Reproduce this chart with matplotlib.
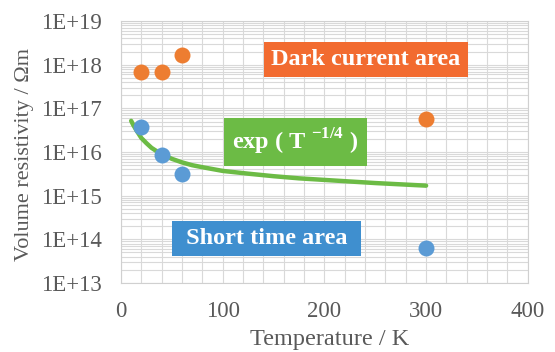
import math

import matplotlib
matplotlib.use("Agg")
import matplotlib.pyplot as plt
from matplotlib.ticker import FixedLocator, MultipleLocator, NullFormatter

plt.rcParams["font.family"] = ["Liberation Serif", "DejaVu Serif"]
plt.rcParams["mathtext.fontset"] = "custom"
plt.rcParams["mathtext.rm"] = "Liberation Serif"
plt.rcParams["mathtext.bf"] = "Liberation Serif:bold"

# measured data
dark_T = [20, 40, 60, 300]
dark_rho = [6.9e17, 6.9e17, 1.7e18, 5.7e16]
short_T = [20, 40, 60, 300]
short_rho = [3.7e16, 8.6e15, 3.2e15, 6.5e13]

# fitted exp(T^-1/4) curve
fit_T = [10, 12, 15, 20, 25, 30, 35, 40, 50, 60, 70, 80, 100, 125, 150, 175, 200, 250, 300]
fit_rho = [5.2e16, 4.2e16, 3.2e16, 2.1e16, 1.6e16, 1.25e16, 1.05e16, 9.0e15, 7.0e15, 5.8e15,
           5.0e15, 4.5e15, 3.7e15, 3.2e15, 2.8e15, 2.5e15, 2.3e15, 1.95e15, 1.7e15]

y_ticks = [1e13, 1e14, 1e15, 1e16, 1e17, 1e18, 1e19]
y_ticklabels = ["1E+13", "1E+14", "1E+15", "1E+16", "1E+17", "1E+18", "1E+19"]

orange = "#ED7D31"
blue = "#5B9BD5"
green = "#6CBB45"
grey = "#595959"

fig = plt.figure(figsize=(5.55, 3.52), dpi=100)
ax = fig.add_axes([0.218, 0.196, 0.733, 0.744])

ax.plot(fit_T, fit_rho, color=green, lw=3.2, solid_capstyle="round", zorder=3)
ax.plot(dark_T, dark_rho, "o", color=orange, ms=11.5, mec="none", zorder=4)
ax.plot(short_T, short_rho, "o", color=blue, ms=11.5, mec="none", zorder=4)

ax.set_yscale("log")
ax.set_xlim(0, 400)
ax.set_ylim(y_ticks[0], y_ticks[-1])
ax.xaxis.set_major_locator(MultipleLocator(100))
ax.xaxis.set_minor_locator(MultipleLocator(20))
ax.set_yticks(y_ticks)
ax.set_yticklabels(y_ticklabels)
minor_y = [m * t for t in y_ticks[:-1] for m in range(2, 10)]
ax.yaxis.set_minor_locator(FixedLocator(minor_y))
ax.yaxis.set_minor_formatter(NullFormatter())

ax.grid(True, which="both", color="#D9D9D9", lw=0.8)
ax.set_axisbelow(True)
for s in ax.spines.values():
    s.set_color("#D0D0D0")
ax.tick_params(which="both", length=0, labelsize=16.5, colors=grey)
ax.tick_params(axis="y", pad=14)
ax.tick_params(axis="x", pad=13)

ax.set_xlabel("Temperature / K", fontsize=17.5, color=grey, va="center")
ax.set_ylabel("Volume resistivity / \u03a9m", fontsize=16, color=grey, va="center")
ax.xaxis.set_label_coords(0.512, -0.214)
ax.yaxis.set_label_coords(-0.238, 0.49)

box_kw = dict(color="white", fontsize=17.5, fontweight="bold", ha="center", va="center", zorder=5)
ax.text(241, 10**18.12, "Dark current area",
        bbox=dict(boxstyle="square,pad=0.3", fc="#F26B30", ec="none"), **box_kw)
ax.text(171.5, 10**16.23, r"exp ( T $^{\mathbf{-1/4}}$ )",
        bbox=dict(boxstyle="square,pad=0.35", fc=green, ec="none"), **box_kw)
ax.text(143, 10**14.02, " Short time area ",
        bbox=dict(boxstyle="square,pad=0.3", fc="#3F8FCF", ec="none"), **box_kw)

fig.savefig("out.png", dpi=100)
